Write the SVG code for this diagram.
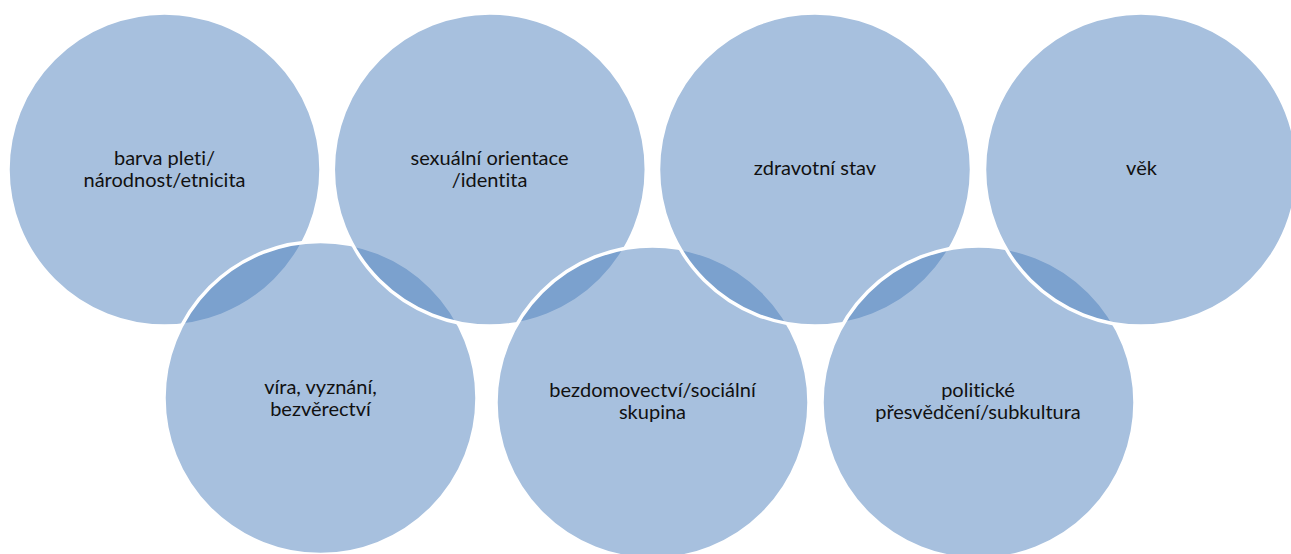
<svg xmlns="http://www.w3.org/2000/svg" width="1291" height="554" viewBox="0 0 1291 554">
<style>
.ring{fill:#4F81BD;fill-opacity:0.5;stroke:#FFFFFF;stroke-width:3.5}
.lbl{font-family:Lato,"Open Sans","Liberation Sans",sans-serif;font-size:20px;fill:#111111;text-anchor:middle;font-variant-ligatures:none}
</style>
<rect x="0" y="0" width="1291" height="554" fill="#FFFFFF"/>
<g id="node-barva">
<circle class="ring" cx="164.5" cy="169.5" r="156.5"/>
<text class="lbl" x="164.5" y="164.5">barva pleti/</text>
<text class="lbl" x="164.5" y="186.5">národnost/etnicita</text>
</g>
<g id="node-vira">
<circle class="ring" cx="320.5" cy="398" r="156.5"/>
<text class="lbl" x="320.5" y="394">víra, vyznání,</text>
<text class="lbl" x="320.5" y="416">bezvěrectví</text>
</g>
<g id="node-sexualni">
<circle class="ring" cx="489.8" cy="169.5" r="156.5"/>
<text class="lbl" x="489.5" y="164.5">sexuální orientace</text>
<text class="lbl" x="489.5" y="186.5">/identita</text>
</g>
<g id="node-bezdomovectvi">
<circle class="ring" cx="652.5" cy="402.5" r="156.5"/>
<text class="lbl" x="652.5" y="397">bezdomovectví/sociální</text>
<text class="lbl" x="652.5" y="419">skupina</text>
</g>
<g id="node-zdravotni">
<circle class="ring" cx="815" cy="169.5" r="156.5"/>
<text class="lbl" x="815" y="175">zdravotní stav</text>
</g>
<g id="node-politicke">
<circle class="ring" cx="978.5" cy="402.5" r="156.5"/>
<text class="lbl" x="978" y="397">politické</text>
<text class="lbl" x="978" y="419">přesvědčení/subkultura</text>
</g>
<g id="node-vek">
<circle class="ring" cx="1141" cy="169.5" r="156.5"/>
<text class="lbl" x="1141.5" y="175">věk</text>
</g>
</svg>
